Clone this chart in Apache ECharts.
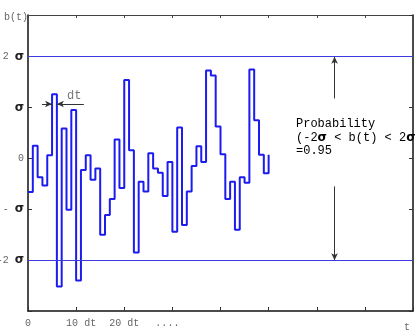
<!DOCTYPE html>
<html>
<head>
<meta charset="utf-8">
<script src="https://cdn.jsdelivr.net/npm/echarts@6/dist/echarts.min.js"></script>
<style>
html,body{margin:0;padding:0;background:#fff;}
#chart{width:417px;height:331px;}
</style>
</head>
<body>
<div id="chart"></div>
<script>
// step values b(t) in units of sigma, one per dt interval (last entry = final level)
const stepIndex = [0,1,2,3,4,5,6,7,8,9,10,11,12,13,14,15,16,17,18,19,20,21,22,23,24,25,26,27,28,29,30,31,32,33,34,35,36,37,38,39,40,41,42,43,44,45,46,47,48,49,50];
const bValues = [-0.66, 0.25, -0.37, -0.53, 0.06, 1.26, -2.52, 0.59, -1.01, 0.95, -2.40, -0.23, 0.06, -0.42, -0.20, -1.50, -1.11, -0.80, 0.37, -0.58, 1.54, 0.16, -1.85, -0.46, -0.65, 0.10, -0.20, -0.28, -0.74, -0.07, -1.44, 0.61, -1.31, -0.65, -0.15, 0.24, -0.07, 1.73, 1.63, 0.63, 0.08, -0.80, -0.46, -1.40, -0.37, -0.48, 1.75, 0.75, 0.07, -0.29, 0.07];

const xTickValues = [0, 10, 20, 30, 80];
const xTickTexts = ['0', '10 dt', '20 dt', '....', 't'];
const yTickValues = [-2, -1, 0, 1, 2];
const yTickTexts = ['-2 σ', '- σ', '0', 'σ', '2 σ'];
const bandLevels = [2, -2];

// annotation arrows (data units: x in dt, y in sigma)
const probArrowX = 63.7;
const probArrowUpper = [1.18, 2];
const probArrowLower = [-0.55, -2];
const dtMarkerY = 1.07;
const dtLeftArrow = [2.9, 5];
const dtRightArrow = [11.6, 6];

const mono = '"Liberation Mono", "DejaVu Sans Mono", monospace';

function richSigma(txt) {
  return txt.split('σ').map(p => p ? '{n|' + p + '}' : '').join('{s|σ}');
}

const stepData = stepIndex.map((k, i) => [k, bValues[i]]);

const chart = echarts.init(document.getElementById('chart'), null, {renderer: 'canvas'});

const xLabelRich = {
  n: {fontFamily: mono, fontSize: 10, color: '#666'},
  a: {fontFamily: mono, fontSize: 10, color: '#666', padding: [0, 0, 0, 10]},
  b: {fontFamily: mono, fontSize: 10, color: '#666', padding: [0, 10, 0, 0]},
  t: {fontFamily: mono, fontSize: 10, color: '#666', padding: [4, 12, 0, 0]}
};
const xLabelStyleKey = {'10 dt': 'a', '....': 'b', 't': 't'};

const yLabelRich = {
  n: {fontFamily: mono, fontSize: 10, color: '#666'},
  s: {fontFamily: '"DejaVu Sans", sans-serif', fontSize: 12, fontWeight: 'bold', color: '#222'}
};

const bandLines = bandLevels.map(v => ({
  yAxis: v,
  symbol: 'none',
  lineStyle: {color: '#3c3ce0', width: 1, type: 'solid'}
}));
const arrowStyle = {color: '#333', width: 1, type: 'solid'};
function arrowLine(x1, y1, x2, y2) {
  return [
    {coord: [x1, y1], symbol: 'none', lineStyle: arrowStyle},
    {coord: [x2, y2], symbol: 'arrow', symbolSize: [5, 7]}
  ];
}

const option = {
  animation: false,
  backgroundColor: '#fff',
  grid: {left: 28, right: 4, top: 15, bottom: 20, containLabel: false, outerBoundsMode: 'none'},
  xAxis: [{
    type: 'value', min: 0, max: 80, interval: 10, position: 'bottom',
    axisLine: {show: true, onZero: false, lineStyle: {color: '#111', width: 1.5}},
    axisTick: {show: true, inside: true, length: 4, lineStyle: {color: '#333'}},
    splitLine: {show: false},
    axisLabel: {
      margin: 7,
      formatter: v => {
        const i = xTickValues.indexOf(v);
        if (i < 0) return '';
        const t = xTickTexts[i];
        return '{' + (xLabelStyleKey[t] || 'n') + '|' + t + '}';
      },
      rich: xLabelRich
    }
  }, {
    type: 'value', min: 0, max: 80, interval: 10, position: 'top',
    axisLine: {show: true, onZero: false, lineStyle: {color: '#444', width: 1}},
    axisTick: {show: true, inside: true, length: 3, lineStyle: {color: '#444'}},
    splitLine: {show: false},
    axisLabel: {show: false}
  }],
  yAxis: [{
    type: 'value', min: -3, max: 2.82, interval: 1, position: 'left',
    name: 'b(t)', nameLocation: 'end', nameGap: -2,
    nameTextStyle: {fontFamily: mono, fontSize: 10, color: '#666', align: 'right', verticalAlign: 'middle'},
    axisLine: {show: true, onZero: false, lineStyle: {color: '#111', width: 1.5}},
    axisTick: {show: true, inside: true, length: 4, lineStyle: {color: '#333'}},
    splitLine: {show: false},
    axisLabel: {
      margin: 4,
      showMaxLabel: false,
      formatter: v => {
        const i = yTickValues.indexOf(v);
        return i < 0 ? '' : richSigma(yTickTexts[i]);
      },
      rich: yLabelRich
    }
  }, {
    type: 'value', min: -3, max: 2.82, interval: 1, position: 'right',
    axisLine: {show: true, onZero: false, lineStyle: {color: '#111', width: 1.5}},
    axisTick: {show: true, inside: true, length: 4, lineStyle: {color: '#333'}},
    splitLine: {show: false},
    axisLabel: {show: false}
  }],
  graphic: [{
    type: 'text', left: 296, top: 118, silent: true,
    style: {
      text: '{n|Probability}\n{n|(-2}{s|σ}{n| < b(t) < 2}{s|σ}{n|)}\n{n|=0.95}',
      rich: {
        n: {fontFamily: mono, fontSize: 12, color: '#6a6a6a', lineHeight: 13.5},
        s: {fontFamily: '"DejaVu Sans", sans-serif', fontSize: 12, fontWeight: 'bold', color: '#444', lineHeight: 13.5}
      }
    }
  }, {
    type: 'text', left: 67, top: 90, silent: true,
    style: {text: 'dt', fontFamily: mono, fontSize: 12, fill: '#777'}
  }],
  series: [{
    type: 'line',
    step: 'end',
    data: stepData,
    showSymbol: false,
    symbol: 'none',
    lineStyle: {color: '#1c1cf0', width: 2},
    z: 3,
    markLine: {
      silent: true,
      animation: false,
      label: {show: false},
      symbol: 'none',
      data: bandLines.concat([
        arrowLine(probArrowX, probArrowUpper[0], probArrowX, probArrowUpper[1]),
        arrowLine(probArrowX, probArrowLower[0], probArrowX, probArrowLower[1]),
        arrowLine(dtLeftArrow[0], dtMarkerY, dtLeftArrow[1], dtMarkerY),
        arrowLine(dtRightArrow[0], dtMarkerY, dtRightArrow[1], dtMarkerY)
      ])
    }
  }]
};

chart.setOption(option);
</script>
</body>
</html>
